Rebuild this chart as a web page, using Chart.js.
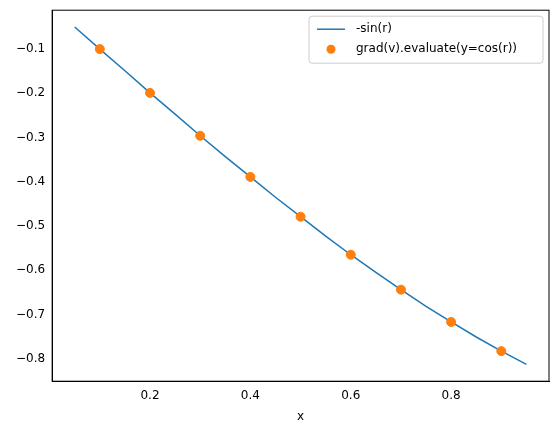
<!DOCTYPE html>
<html><head><meta charset="utf-8">
<script src="https://cdn.jsdelivr.net/npm/chart.js@4"></script>
<style>html,body{margin:0;background:#fff}#wrap{position:relative;width:559px;height:432px}</style>
</head><body><div id="wrap"><canvas id="chart" width="559" height="432"></canvas></div>
<script>
var lineX = [0.05,0.1,0.15,0.2,0.25,0.3,0.35,0.4,0.45,0.5,0.55,0.6,0.65,0.7,0.75,0.8,0.85,0.9,0.95]
var lineY = [-0.050,-0.100,-0.149,-0.199,-0.247,-0.296,-0.343,-0.389,-0.435,-0.479,-0.523,-0.565,-0.605,-0.644,-0.682,-0.717,-0.751,-0.783,-0.813]
var dotX = [0.1,0.2,0.3,0.4,0.5,0.6,0.7,0.8,0.9]
var dotY = [-0.100,-0.199,-0.296,-0.389,-0.479,-0.565,-0.644,-0.717,-0.783]
var xTicks = [0.2,0.4,0.6,0.8]
var yTicks = [-0.1,-0.2,-0.3,-0.4,-0.5,-0.6,-0.7,-0.8]

Chart.defaults.font.family = 'DejaVu Sans'
Chart.defaults.font.size = 12
Chart.defaults.color = '#000'

new Chart(document.getElementById('chart').getContext('2d'), {
  type: 'scatter',
  data: {
    datasets: [{
      label: '-sin(r)', type: 'line',
      data: lineX.map(function(x, i) { return {x: x, y: lineY[i]} }),
      borderColor: '#1f77b4', borderWidth: 1.5, pointRadius: 0, fill: false, order: 2,
    }, {
      label: 'grad(v).evaluate(y=cos(r))',
      data: dotX.map(function(x, i) { return {x: x, y: dotY[i]} }),
      backgroundColor: '#ff7f0e', borderColor: '#ff7f0e', pointRadius: 4.5, order: 1,
    }],
  },
  options: {
    responsive: false, animation: false,
    layout: {padding: {left: 13, right: 10, top: 9, bottom: 4}},
    plugins: {legend: {display: false}, tooltip: {enabled: false}},
    scales: {
      x: {
        type: 'linear', min: 0.005, max: 0.995,
        title: {display: true, text: 'x', font: {size: 12}},
        grid: {display: false, tickLength: 4},
        border: {color: '#000'},
        afterBuildTicks: function(s) { s.ticks = xTicks.map(function(v) { return {value: v} }) },
        ticks: {callback: function(v) { return v.toFixed(1) }},
      },
      y: {
        min: -0.851, max: -0.012,
        grid: {display: false, tickLength: 4},
        border: {color: '#000'},
        afterBuildTicks: function(s) { s.ticks = yTicks.map(function(v) { return {value: v} }) },
        ticks: {callback: function(v) { return '\u2212' + Math.abs(v).toFixed(1) }},
      },
    },
  },
  plugins: [{
    id: 'frame',
    afterDraw: function(c) {
      var a = c.chartArea, ctx = c.ctx
      ctx.save(); ctx.strokeStyle = '#000'; ctx.lineWidth = 1
      ctx.strokeRect(a.left, a.top, a.right - a.left, a.bottom - a.top)
      // legend
      var x0 = a.right - 240, y0 = a.top + 6
      ctx.fillStyle = 'rgba(255,255,255,0.8)'; ctx.strokeStyle = '#ccc'
      ctx.beginPath(); ctx.roundRect(x0, y0, 234, 47, 3); ctx.fill(); ctx.stroke()
      ctx.strokeStyle = '#1f77b4'; ctx.lineWidth = 1.5
      ctx.beginPath(); ctx.moveTo(x0 + 8, y0 + 13); ctx.lineTo(x0 + 36, y0 + 13); ctx.stroke()
      ctx.fillStyle = '#ff7f0e'
      ctx.beginPath(); ctx.arc(x0 + 22, y0 + 33, 4.5, 0, Math.PI * 2); ctx.fill()
      ctx.fillStyle = '#000'; ctx.font = '12px DejaVu Sans'; ctx.textBaseline = 'middle'
      ctx.fillText(c.data.datasets[0].label, x0 + 47, y0 + 13)
      ctx.fillText(c.data.datasets[1].label, x0 + 47, y0 + 33)
      ctx.restore()
    },
  }],
})
</script></body></html>
